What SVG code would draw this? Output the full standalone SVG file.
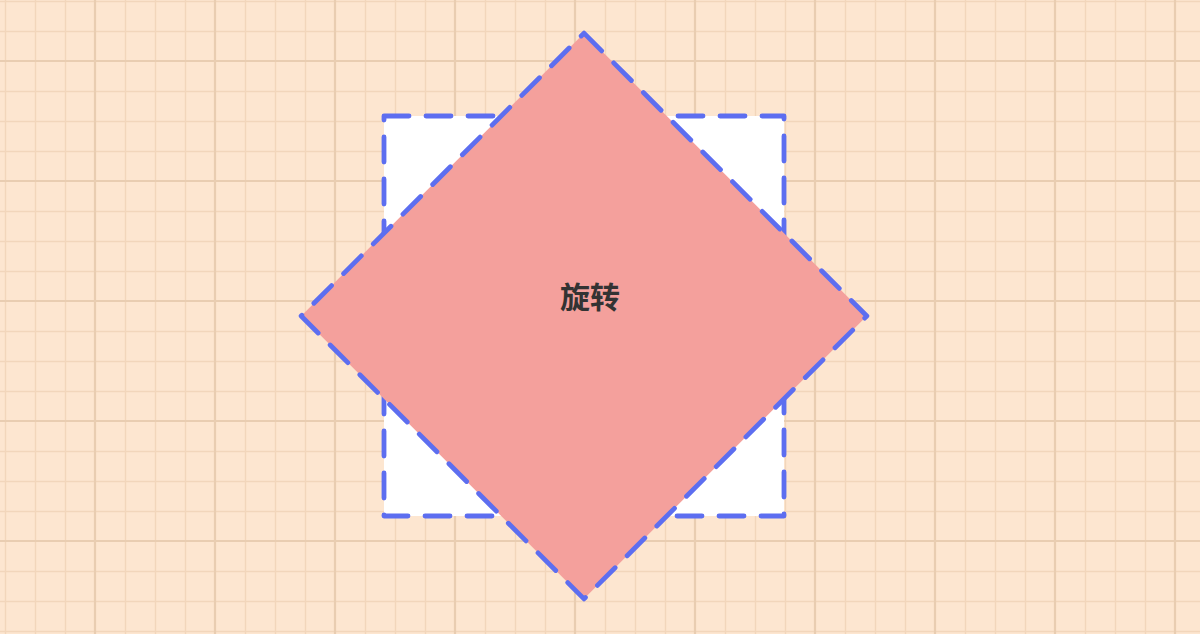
<svg xmlns="http://www.w3.org/2000/svg" width="1200" height="634" viewBox="0 0 1200 634">
  <style>
    .outline { stroke: #5d6ef0; stroke-width: 4.8; stroke-dasharray: 25 17; stroke-linecap: round; stroke-linejoin: round; }
    .label { font-family: "Noto Sans CJK SC", "Noto Sans", sans-serif; font-size: 30px; font-weight: bold; fill: #333333; text-anchor: middle; }
    .minor { stroke: #f2d6bb; stroke-width: 1.4; fill: none; }
    .major { stroke: #e9cdb1; stroke-width: 2.2; fill: none; }
  </style>
  <rect width="1200" height="634" fill="#fde6d0"/>
  <g id="grid">
    <path class="minor" d="M5.5 0V634M35.5 0V634M65.5 0V634M125.5 0V634M155.5 0V634M185.5 0V634M245.5 0V634M275.5 0V634M305.5 0V634M365.5 0V634M395.5 0V634M425.5 0V634M485.5 0V634M515.5 0V634M545.5 0V634M605.5 0V634M635.5 0V634M665.5 0V634M725.5 0V634M755.5 0V634M785.5 0V634M845.5 0V634M875.5 0V634M905.5 0V634M965.5 0V634M995.5 0V634M1025.5 0V634M1085.5 0V634M1115.5 0V634M1145.5 0V634M0 1.5H1200M0 31.5H1200M0 91.5H1200M0 121.5H1200M0 151.5H1200M0 211.5H1200M0 241.5H1200M0 271.5H1200M0 331.5H1200M0 361.5H1200M0 391.5H1200M0 451.5H1200M0 481.5H1200M0 511.5H1200M0 571.5H1200M0 601.5H1200M0 631.5H1200"/>
    <path class="major" d="M95 0V634M215 0V634M335 0V634M455 0V634M575 0V634M695 0V634M815 0V634M935 0V634M1055 0V634M1175 0V634M0 61H1200M0 181H1200M0 301H1200M0 421H1200M0 541H1200"/>
  </g>
  <g id="connectors"/>
  <g id="square">
    <rect class="outline" x="384" y="116" width="400" height="400" fill="#ffffff"/>
  </g>
  <g id="diamond">
    <rect class="outline" x="384" y="116" width="400" height="400" fill="#f4a09c" transform="rotate(45 584 316)"/>
    <text class="label" x="590" y="308">旋转</text>
  </g>
</svg>
